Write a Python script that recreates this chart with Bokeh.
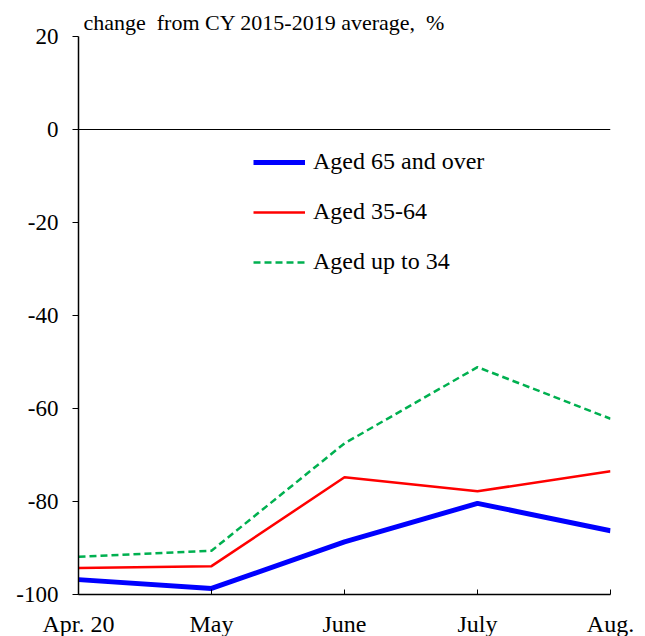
from bokeh.plotting import figure
from bokeh.models import (Range1d, FixedTicker, Span, Legend, LegendItem)
from bokeh.embed import file_html
from bokeh.resources import INLINE

months = ["Apr. 20", "May", "June", "July", "Aug."]
aged_65_over = [-96.8, -98.7, -88.7, -80.4, -86.3]
aged_35_64 = [-94.3, -93.9, -74.8, -77.8, -73.5]
aged_up_to_34 = [-91.9, -90.6, -67.5, -51.1, -62.2]
y_ticks = [-100, -80, -60, -40, -20, 0, 20]
y_title = "change\u00a0\u00a0from CY 2015-2019 average,\u00a0\u00a0%"

FONT = "Liberation Serif"
xs = list(range(len(months)))

p = figure(frame_width=532, frame_height=558, output_backend="svg",
           toolbar_location=None, x_range=Range1d(0, len(months) - 1),
           y_range=Range1d(-100, 20), min_border_left=78, min_border_top=36,
           min_border_right=33, min_border_bottom=40)
p.outline_line_color = None
p.xgrid.visible = False
p.ygrid.visible = False
p.background_fill_color = "white"
p.border_fill_color = "white"

p.title.text = y_title
p.title.align = "left"
p.title.offset = 5
p.title.standoff = 3
p.title.text_font = FONT
p.title.text_font_size = "22px"
p.title.text_font_style = "normal"
p.title.text_color = "black"

p.yaxis.ticker = FixedTicker(ticks=y_ticks)
p.yaxis.major_label_overrides = {t: str(t) for t in y_ticks}
p.yaxis.minor_tick_line_color = None
p.yaxis.major_tick_out = 6
p.yaxis.major_tick_in = 0
p.yaxis.major_label_standoff = 14
p.yaxis.major_label_text_font = FONT
p.yaxis.major_label_text_font_size = "23px"
p.yaxis.major_label_text_color = "black"
p.yaxis.axis_line_color = "black"
p.yaxis.axis_line_width = 1.5
p.yaxis.major_tick_line_color = "black"

p.xaxis.ticker = FixedTicker(ticks=xs)
p.xaxis.major_label_overrides = {i: m for i, m in enumerate(months)}
p.xaxis.minor_tick_line_color = None
p.xaxis.major_tick_in = 5
p.xaxis.major_tick_out = 0
p.xaxis.major_label_standoff = 16
p.xaxis.major_label_text_font = FONT
p.xaxis.major_label_text_font_size = "24px"
p.xaxis.major_label_text_color = "black"
p.xaxis.axis_line_color = "black"
p.xaxis.axis_line_width = 1.5
p.xaxis.major_tick_line_color = "black"

p.add_layout(Span(location=0, dimension="width", line_color="black", line_width=1.2))

r1 = p.line(xs, aged_65_over, line_color="#0000FF", line_width=5)
r2 = p.line(xs, aged_35_64, line_color="#FF0000", line_width=2.5)
r3 = p.line(xs, aged_up_to_34, line_color="#00B050", line_width=2.5, line_dash="7 4")

legend = Legend(items=[LegendItem(label="Aged 65 and over", renderers=[r1]),
                       LegendItem(label="Aged 35-64", renderers=[r2]),
                       LegendItem(label="Aged up to 34", renderers=[r3])],
                location=(175, 319), padding=0, margin=0, spacing=23,
                label_height=24, glyph_height=24, glyph_width=52,
                label_standoff=8, border_line_color=None,
                background_fill_alpha=0, label_text_font=FONT,
                label_text_font_size="24px", label_text_color="black")
p.add_layout(legend)

open("out.html", "w").write(file_html(p, INLINE))
